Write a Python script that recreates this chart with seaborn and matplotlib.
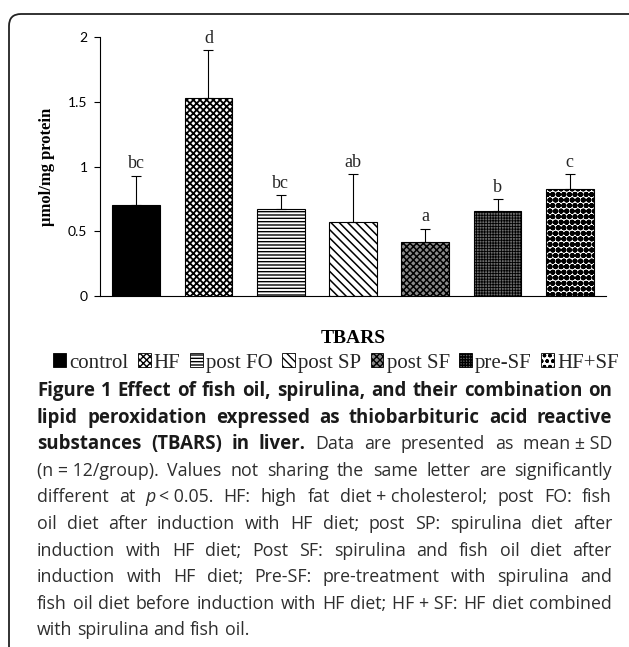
import matplotlib
matplotlib.use('Agg')
import numpy as np
import pandas as pd
import matplotlib.pyplot as plt
import seaborn as sns
from matplotlib.patches import Patch, FancyBboxPatch
from matplotlib.transforms import IdentityTransform

# data
groups = ['control', 'HF', 'post FO', 'post SP', 'post SF', 'pre-SF', 'HF+SF']
means = [0.70, 1.53, 0.67, 0.57, 0.42, 0.66, 0.83]
sds = [0.23, 0.37, 0.11, 0.37, 0.10, 0.09, 0.11]
letters = ['bc', 'd', 'bc', 'ab', 'a', 'b', 'c']
y_ticks = [0, 0.5, 1, 1.5, 2]
y_tick_labels = ['0', '0.5', '1', '1.5', '2']

# bar fill styles (face, hatch, hatch linewidth)
styles = [('black', '', 1.0),
          ('white', 'xxxxx', 1.3),
          ('white', '-----', 1.0),
          ('white', '\\\\\\\\', 1.1),
          ('#8a8a8a', 'xxxxx', 1.1),
          ('#6a6a6a', '++++++', 0.6),
          ('white', 'ooo', 2.0)]

W, H = 629, 647
sns.set_theme(style='white')
plt.rcParams['font.family'] = ['Liberation Serif', 'DejaVu Serif']
plt.rcParams['hatch.linewidth'] = 1.0

fig = plt.figure(figsize=(W / 100, H / 100), dpi=100)
ax = fig.add_axes([100 / W, 1 - 296 / H, 506 / W, 259 / H])

df = pd.DataFrame({'group': groups, 'mean': means})
sns.barplot(data=df, x='group', y='mean', order=groups, color='white',
            saturation=1, width=0.66, edgecolor='black', linewidth=0.8,
            errorbar=None, ax=ax)

for bar, (fc, hatch, hlw) in zip(ax.patches, styles):
    bar.set_facecolor(fc)
    bar.set_hatch(hatch)
    if hasattr(bar, 'set_hatch_linewidth'):
        bar.set_hatch_linewidth(hlw)

xpos = np.arange(len(groups))
ax.errorbar(xpos, means, yerr=[np.zeros(len(sds)), sds], fmt='none',
            ecolor='black', elinewidth=0.8, capsize=3.5, capthick=0.8)

for x, m, s, lab in zip(xpos, means, sds, letters):
    ax.text(x, m + s + 0.025, lab, ha='center', va='bottom', fontsize=13,
            family='Liberation Serif')

ax.set_xlim(-0.5, len(groups) - 0.5)
ax.set_ylim(0, 2)
ax.set_yticks(y_ticks)
ax.set_yticklabels(y_tick_labels, family='Lato', fontsize=10)
ax.set_xticks([])
ax.tick_params(axis='y', direction='out', length=4, width=0.8, pad=5, left=True, colors='black')
for sp in ['top', 'right']:
    ax.spines[sp].set_visible(False)
for sp in ['left', 'bottom']:
    ax.spines[sp].set_color('black')
    ax.spines[sp].set_linewidth(0.8)

ax.set_ylabel('µmol/mg protein', fontweight='bold', fontsize=12, family='Liberation Serif', color='black')
ax.yaxis.set_label_coords(-0.089, 0.5)
ax.set_xlabel('TBARS', fontweight='bold', fontsize=14, family='Liberation Serif', color='black')
ax.xaxis.set_label_coords(0.5, -0.13)

handles = [Patch(facecolor=fc, hatch=h, edgecolor='black', linewidth=0.6) for fc, h, _ in styles]
fig.legend(handles, groups, loc='center', bbox_to_anchor=(336 / W, 1 - 363 / H),
           ncol=len(groups), frameon=False, handlelength=0.62, handleheight=0.62,
           handletextpad=0.15, columnspacing=0.45, borderaxespad=0,
           prop={'family': 'Liberation Serif', 'size': 15})

# outer rounded frame of the figure panel
frame = FancyBboxPatch((9, -40), 700, H - 14 + 40, boxstyle='round,pad=0,rounding_size=12',
                       transform=IdentityTransform(), fill=False, lw=1.3, ec='#222222')
fig.add_artist(frame)

# caption, justified by placing words
cap_font = 'Open Sans'
reg_size = 12.8
bold_size = 13.4
NB = '\u00a0'
caption = [
    [[('Figure', 'b')], [('1', 'b')], [('Effect', 'b')], [('of', 'b')], [('fish', 'b')], [('oil,', 'b')],
     [('spirulina,', 'b')], [('and', 'b')], [('their', 'b')], [('combination', 'b')], [('on', 'b')]],
    [[('lipid', 'b')], [('peroxidation', 'b')], [('expressed', 'b')], [('as', 'b')],
     [('thiobarbituric', 'b')], [('acid', 'b')], [('reactive', 'b')]],
    [[('substances', 'b')], [('(TBARS)', 'b')], [('in', 'b')], [('liver.', 'b')], [('Data', 'r')],
     [('are', 'r')], [('presented', 'r')], [('as', 'r')], [('mean' + NB + '±' + NB + 'SD', 'r')]],
    [[('(n' + NB + '=' + NB + '12/group).', 'r')]] + [[(w, 'r')] for w in
     'Values not sharing the same letter are significantly'.split()],
    [[('different', 'r')], [('at', 'r')], [('p', 'i'), ('<' + NB + '0.05.', 'r')], [('HF:', 'r')],
     [('high', 'r')], [('fat', 'r')], [('diet' + NB + '+' + NB + 'cholesterol;', 'r')],
     [('post', 'r')], [('FO:', 'r')], [('fish', 'r')]],
    [[(w, 'r')] for w in 'oil diet after induction with HF diet; post SP: spirulina diet after'.split()],
    [[(w, 'r')] for w in 'induction with HF diet; Post SF: spirulina and fish oil diet after'.split()],
    [[(w, 'r')] for w in 'induction with HF diet; Pre-SF: pre-treatment with spirulina and'.split()],
    [[(w, 'r')] for w in 'fish oil diet before induction with HF diet;'.split()] +
    [[('HF' + NB + '+' + NB + 'SF:', 'r')]] + [[(w, 'r')] for w in 'HF diet combined'.split()],
    [[(w, 'r')] for w in 'with spirulina and fish oil.'.split()],
]

renderer = fig.canvas.get_renderer()


def seg_kw(style):
    kw = dict(family=cap_font, fontsize=reg_size, color='#2e2e2e')
    if style == 'b':
        kw['fontweight'] = 'bold'
        kw['fontsize'] = bold_size
        kw['color'] = '#1a1a1a'
    if style == 'i':
        kw['fontstyle'] = 'italic'
    return kw


def seg_width(txt, style):
    t = fig.text(0, 0, txt, **seg_kw(style))
    w = t.get_window_extent(renderer=renderer).width
    t.remove()
    return w


space_w = seg_width('a' + NB + 'b', 'r') - seg_width('ab', 'r')
inner_gap = 3
left, right = 37, 612
base0, dy = 396, 26.6
for i, line in enumerate(caption):
    unit_w = []
    for unit in line:
        unit_w.append(sum(seg_width(t, s) for t, s in unit) + inner_gap * (len(unit) - 1))
    if i < len(caption) - 1:
        gap = (right - left - sum(unit_w)) / (len(line) - 1)
    else:
        gap = space_w
    x = left
    yb = base0 + i * dy
    for unit, uw in zip(line, unit_w):
        xx = x
        for t, s in unit:
            fig.text(xx / W, 1 - yb / H, t, ha='left', va='baseline', **seg_kw(s))
            xx += seg_width(t, s) + inner_gap
        x += uw + gap

fig.savefig('out.png', dpi=100)
